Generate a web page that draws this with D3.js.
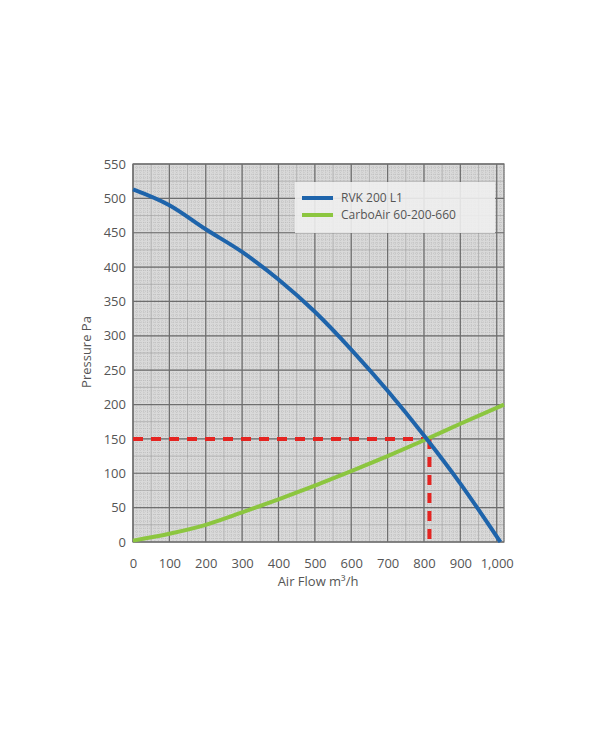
<!DOCTYPE html>
<html>
<head>
<meta charset="utf-8">
<script src="https://d3js.org/d3.v7.min.js"></script>
<style>
body { margin:0; background:#fff; }
text { font-family: "Open Sans", sans-serif; fill:#555; }
</style>
</head>
<body>
<svg width="600" height="745"></svg>
<script>
var xTicks = [0,100,200,300,400,500,600,700,800,900,1000];
var yTicks = [0,50,100,150,200,250,300,350,400,450,500,550];
var rvkFlow = [0,100,200,300,400,500,600,700,800,900,1010];
var rvkPressure = [513,490,455,422,382,335,280,220,155,85,0];
var carboFlow = [0,100,200,300,400,500,600,700,800,900,1020];
var carboPressure = [2,12,25,43,62,82,103,125,148,172,200];
var opFlow = 815, opPressure = 150;

var svg = d3.select('svg');
var x = d3.scaleLinear().domain([0,1020]).range([133,504]);
var y = d3.scaleLinear().domain([0,550]).range([542,164]);

svg.append('rect').attr('x',133).attr('y',164).attr('width',371).attr('height',378).attr('fill','#d9d9d9');

// fine grid
var g = svg.append('g');
d3.range(0,1021,10).forEach(function(v){
  g.append('line').attr('x1',x(v)).attr('x2',x(v)).attr('y1',164).attr('y2',542)
   .attr('stroke', v%50==0 ? '#999' : '#b5b5b5').attr('stroke-width',0.6).attr('stroke-dasharray', v%50==0 ? null : '1,1');
});
d3.range(0,551,5).forEach(function(v){
  g.append('line').attr('x1',133).attr('x2',504).attr('y1',y(v)).attr('y2',y(v))
   .attr('stroke', v%25==0 ? '#999' : '#b5b5b5').attr('stroke-width',0.6).attr('stroke-dasharray', v%25==0 ? null : '1,1');
});
xTicks.forEach(function(v){
  g.append('line').attr('x1',x(v)).attr('x2',x(v)).attr('y1',164).attr('y2',542).attr('stroke','#6e6e6e').attr('stroke-width',1.2);
});
yTicks.forEach(function(v){
  g.append('line').attr('x1',133).attr('x2',504).attr('y1',y(v)).attr('y2',y(v)).attr('stroke','#6e6e6e').attr('stroke-width',1.2);
});
svg.append('rect').attr('x',133).attr('y',164).attr('width',371).attr('height',378).attr('fill','none').attr('stroke','#6e6e6e').attr('stroke-width',1.2);

// axes labels
svg.append('g').attr('transform','translate(0,555)')
  .call(d3.axisBottom(x).tickValues(xTicks).tickSize(0).tickPadding(4))
  .call(function(a){ a.select('.domain').remove(); a.selectAll('text').attr('font-size',13).attr('fill','#555').attr('font-family','Open Sans'); });
svg.append('g').attr('transform','translate(126,0)')
  .call(d3.axisLeft(y).tickValues(yTicks).tickSize(0).tickPadding(0))
  .call(function(a){ a.select('.domain').remove(); a.selectAll('text').attr('font-size',13).attr('fill','#555').attr('font-family','Open Sans'); });

svg.append('text').attr('x',318).attr('y',586).attr('text-anchor','middle').attr('font-size',13).text('Air Flow m³/h');
svg.append('text').attr('transform','translate(91,352) rotate(-90)').attr('text-anchor','middle').attr('font-size',13).text('Pressure Pa');

// red operating point lines
svg.append('line').attr('x1',x(0)).attr('x2',x(opFlow)).attr('y1',y(opPressure)).attr('y2',y(opPressure))
  .attr('stroke','#e52421').attr('stroke-width',4).attr('stroke-dasharray','10,8');
svg.append('line').attr('x1',x(opFlow)).attr('x2',x(opFlow)).attr('y1',y(opPressure)).attr('y2',y(0))
  .attr('stroke','#e52421').attr('stroke-width',4).attr('stroke-dasharray','10,8');

var line = d3.line().x(function(d){return x(d[0]);}).y(function(d){return y(d[1]);}).curve(d3.curveMonotoneX);
svg.append('path').attr('d', line(d3.zip(carboFlow,carboPressure))).attr('fill','none').attr('stroke','#8cc63f').attr('stroke-width',4);
svg.append('path').attr('d', line(d3.zip(rvkFlow,rvkPressure))).attr('fill','none').attr('stroke','#1e64ab').attr('stroke-width',4);

// legend
var lg = svg.append('g');
lg.append('rect').attr('x',295).attr('y',182).attr('width',200).attr('height',51).attr('fill','#eeeeee').attr('opacity',0.9);
[['RVK 200 L1','#1e64ab',198],['CarboAir 60-200-660','#8cc63f',215]].forEach(function(d){
  lg.append('line').attr('x1',302).attr('x2',333).attr('y1',d[2]).attr('y2',d[2]).attr('stroke',d[1]).attr('stroke-width',4);
  lg.append('text').attr('x',341).attr('y',d[2]+4).attr('font-size',12).attr('fill','#444').text(d[0]);
});
</script>
</body>
</html>
